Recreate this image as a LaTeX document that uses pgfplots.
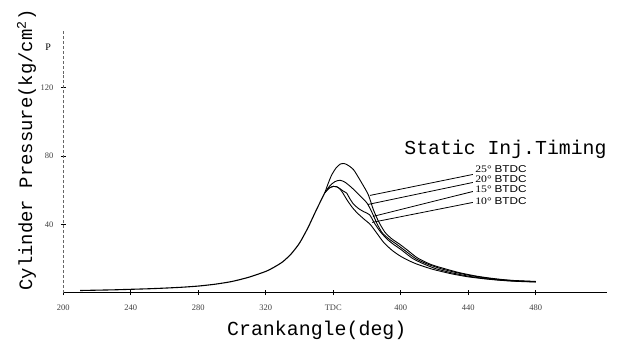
\documentclass[border=0pt]{standalone}
\usepackage{pgfplots}
\pgfplotsset{compat=1.18}
\usepackage{fontspec}
\setmainfont{Liberation Serif}
\newfontfamily\monofont{Liberation Mono}
\newfontfamily\sansfont{Liberation Sans}
\begin{document}
\begin{tikzpicture}
\begin{axis}[
  scale only axis, width=543.7bp, height=261.3bp,
  xmin=200, xmax=522, ymin=0, ymax=153,
  axis x line=bottom, axis y line=left,
  x axis line style={-, line width=1.1bp, black},
  y axis line style={-, line width=0.5bp, black!60, densely dashed},
  xtick={200,240,...,480}, xticklabels={200,240,280,320,TDC,400,440,480},
  ytick={40,80,120},
  tick align=center, major tick length=5bp,
  tick style={black, line width=0.6bp},
  ticklabel style={font=\fontsize{8.5}{9}\selectfont, text=black!75},
  xticklabel style={yshift=-6bp},
  yticklabel style={xshift=-4bp},
  /pgf/number format/assume math mode=true,
  clip=false,
]
% common compression part
\addplot[black, line width=1.1bp, smooth, tension=0.4, no markers] coordinates {(210,1.2)(220,1.4)(230,1.6)(240,1.9)(250,2.2)(260,2.6)(270,3.1)(280,3.8)(290,4.9)(300,6.5)(310,9.0)(320,12.4)(325,14.9)(330,18.0)(335,22.6)(340,29.0)(345,38.0)(350,48.5)(355,58.5)};
% 10 deg BTDC
\addplot[black, line width=0.9bp, smooth, tension=0.4, no markers] coordinates {(355,58.5)(357.5,61.2)(360,62.2)(362,62.0)(364,60.6)(366,57.8)(368,54.5)(371,50.2)(374,46.8)(378,43.2)(382,39.8)(386,34.5)(390,29.2)(395,24.6)(400,21.2)(405,18.6)(410,16.5)(419,13.6)(430,11.0)(440,9.2)(450,8.0)(460,7.1)(470,6.5)(480,6.2)};
% 15 deg BTDC
\addplot[black, line width=0.9bp, smooth, tension=0.4, no markers] coordinates {(355,58.5)(357.5,61.2)(360,62.2)(362,62.0)(364,60.8)(366,59.4)(368,58.2)(369.5,55.5)(372,51.8)(375,49.2)(378,47.4)(381.5,45.6)(384.5,40.5)(388,35.5)(392,31.2)(396,28.0)(400,25.3)(407,20.0)(414,16.6)(421,13.9)(430,11.6)(440,9.6)(450,8.2)(460,7.2)(470,6.6)(480,6.3)};
% 20 deg BTDC
\addplot[black, line width=0.9bp, smooth, tension=0.4, no markers] coordinates {(355,58.5)(358,62.6)(361,65.0)(364,65.8)(367,64.6)(371,61.4)(376,56.5)(380,52.4)(383,46.8)(386,40.2)(389,35.0)(393,31.4)(397.5,28.3)(403,24.2)(409,19.8)(416,16.6)(424,13.9)(432,11.9)(440,10.2)(450,8.6)(460,7.5)(470,6.8)(480,6.4)};
% 25 deg BTDC
\addplot[black, line width=0.9bp, smooth, tension=0.4, no markers] coordinates {(355,58.5)(357,64.0)(359,68.8)(361.5,72.8)(364,75.2)(366,75.6)(368,75.0)(372,72.0)(376.8,64.3)(380.7,57.4)(383.7,48.7)(386.7,41.9)(390.5,35.5)(394.5,31.6)(399.5,28.2)(404,24.8)(410,20.2)(418,16.4)(427,13.7)(435,11.6)(445,9.6)(455,8.2)(465,7.2)(480,6.5)};
% leader lines
\draw[line width=0.8bp] (axis cs:381.7,56.9) -- (axis cs:442.7,69.2);
\draw[line width=0.8bp] (axis cs:380.5,51.6) -- (axis cs:442.7,64.5);
\draw[line width=0.8bp] (axis cs:383.5,44.6) -- (axis cs:442.7,59.2);
\draw[line width=0.8bp] (axis cs:383,41.1) -- (axis cs:442.7,52.8);
\node[anchor=west, inner sep=0, xscale=1.18] at (axis cs:444,72.1) {\fontsize{10}{10}\selectfont 25°\ {\sansfont BTDC}};
\node[anchor=west, inner sep=0, xscale=1.18] at (axis cs:444,66.7) {\fontsize{10}{10}\selectfont 20°\ {\sansfont BTDC}};
\node[anchor=west, inner sep=0, xscale=1.18] at (axis cs:444,60.4) {\fontsize{10}{10}\selectfont 15°\ {\sansfont BTDC}};
\node[anchor=west, inner sep=0, xscale=1.18] at (axis cs:444,53.5) {\fontsize{10}{10}\selectfont 10°\ {\sansfont BTDC}};
% titles
\node[anchor=base west, inner sep=0] at (axis cs:402,80.8) {\fontsize{19.9}{20}\monofont Static Inj.Timing};
\node[rotate=90, anchor=base, inner sep=0] at (axis cs:181.5,83.5) {\fontsize{19}{20}\monofont Cylinder Pressure(kg/cm\textsuperscript{2})};
\node[anchor=base, inner sep=0] at (axis cs:350.2,-25.4) {\fontsize{20}{20}\monofont Crankangle(deg)};
\node[inner sep=0] at (axis cs:191,144) {\fontsize{10}{10}\selectfont P};
% bounding box matching reference frame
\path (axis cs:162.5,171.4) rectangle (axis cs:529.9,-31.4);
\end{axis}
\end{tikzpicture}
\end{document}
